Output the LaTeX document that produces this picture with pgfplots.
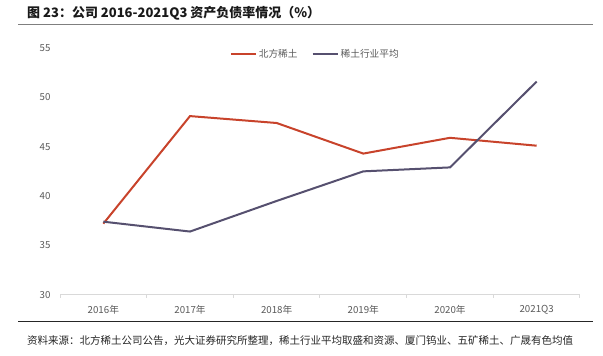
\documentclass[border=0pt]{standalone}
\usepackage{fontspec}
\usepackage{pgfplots}
\pgfplotsset{compat=1.18}
\setmainfont{Noto Sans CJK SC}
\definecolor{cred}{HTML}{C8432B}
\definecolor{cblue}{HTML}{56506F}
\definecolor{tgray}{HTML}{595959}
\definecolor{agray}{HTML}{D9D9D9}
\definecolor{rgray}{HTML}{7F7F7F}
\begin{document}
\begin{tikzpicture}[x=1pt,y=1pt]
\path[use as bounding box] (0,0) rectangle (603,-356);
\node[anchor=west,font=\fontsize{13}{15}\selectfont\bfseries,text=black!90,inner sep=0pt] at (27,-13) {图 23：公司 2016-2021Q3 资产负债率情况（\%）};
\draw[line width=1.5pt,color=rgray] (18,-24.5) -- (593,-24.5);
\begin{axis}[
  at={(60pt,-294.7pt)}, anchor=south west,
  scale only axis, width=520pt, height=246.7pt,
  xmin=-0.5, xmax=5.5, ymin=30, ymax=55,
  xtick={-0.5,0.5,...,5.5},
  x tick label as interval,
  xticklabels={2016年,2017年,2018年,2019年,2020年,\raisebox{3pt}{2021Q3}},
  ytick={30,35,...,55},
  axis x line*=bottom, axis y line*=left,
  y axis line style={draw=none},
  ytick style={draw=none},
  x axis line style={draw=agray,line width=1pt},
  xtick style={draw=agray,line width=1pt},
  tick align=outside,
  major tick length=3pt,
  tick label style={font=\fontsize{9.7}{11}\selectfont,text=tgray},
  /pgf/number format/assume math mode=true,
  xticklabel style={yshift=-4pt},
  yticklabel style={xshift=-3pt},
  legend columns=2,
  legend style={draw=none,fill=none,at={(0.491,0.974)},anchor=center,
    font=\fontsize{9.7}{11}\selectfont,text=tgray,
    /tikz/every even column/.append style={column sep=12pt}},
  legend image code/.code={\draw[#1] (0pt,0pt) -- (25pt,0pt);},
  clip=false,
]
\addplot[cred,line width=2pt] coordinates {(0,37.2) (1,48.1) (2,47.4) (3,44.3) (4,45.9) (5,45.1)};
\addlegendentry{北方稀土}
\addplot[cblue,line width=2pt] coordinates {(0,37.4) (1,36.4) (2,39.5) (3,42.5) (4,42.9) (5,51.6)};
\addlegendentry{稀土行业平均}
\end{axis}
\draw[line width=1pt,color=black!85] (18,-321.3) -- (593,-321.3);
\node[anchor=west,font=\fontsize{10.5}{12}\selectfont,text=black!85,inner sep=0pt] at (27,-341) {资料来源：北方稀土公司公告，光大证券研究所整理，稀土行业平均取盛和资源、厦门钨业、五矿稀土、广晟有色均值};
\end{tikzpicture}
\end{document}
